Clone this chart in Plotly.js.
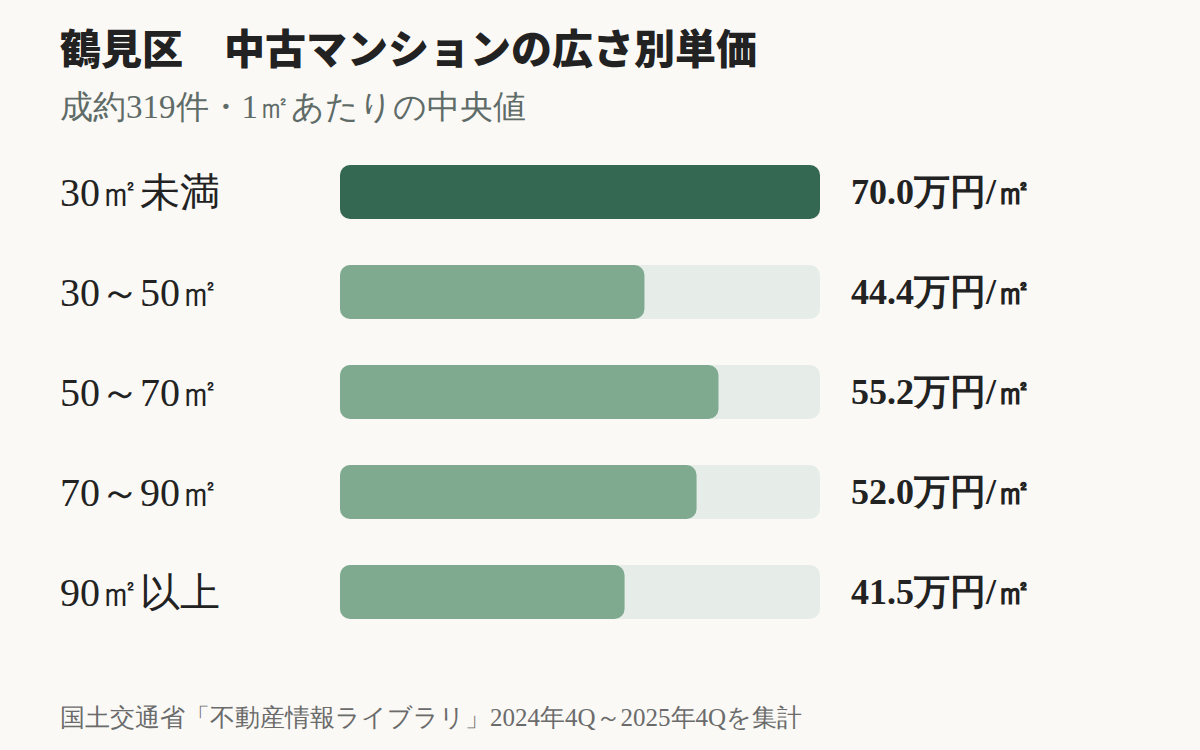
<!DOCTYPE html>
<html>
<head>
<meta charset="utf-8">
<script src="https://cdn.plot.ly/plotly-3.0.1.min.js"></script>
<style>
  html, body { margin: 0; padding: 0; background: #faf9f6; }
  #graph { width: 1200px; height: 750px; }
</style>
</head>
<body>
<div id="graph"></div>
<script>
// 鶴見区 中古マンション 広さ別の1㎡単価（万円）
const categories = ['30㎡未満', '30～50㎡', '50～70㎡', '70～90㎡', '90㎡以上'];
const values = [70.0, 44.4, 55.2, 52.0, 41.5];
const unit = '万円/㎡';

const titleText = '鶴見区　中古マンションの広さ別単価';
const subtitleText = '成約319件・1㎡あたりの中央値';
const sourceText = '国土交通省「不動産情報ライブラリ」2024年4Q～2025年4Qを集計';

const maxVal = Math.max(...values);
const W = 1200, H = 750;
const left = 340, right = 820;

function px(xpix) { return (xpix - left) / (right - left); }

// setting an explicit base makes plotly round both ends of the bar
function roundBar(vals, color) {
    return {
        type: 'bar', orientation: 'h', y: categories, width: 0.54,
        base: vals.map(() => 0),
        x: vals,
        marker: {color: color, cornerradius: 10, line: {width: 0}},
        hoverinfo: 'skip'
    };
}

var trackColor = '#e6ede9';
var barColors = values.map((v, i) => i === 0 ? '#356852' : '#7faa8f');

var data = [
    roundBar(categories.map(() => maxVal), trackColor),
    roundBar(values, barColors)
];

var annotations = [];
categories.forEach(function(c, i) {
    annotations.push({
        xref: 'paper', yref: 'y', x: px(58), y: c,
        xanchor: 'left', yanchor: 'middle', showarrow: false,
        text: c,
        font: {family: 'Liberation Serif, serif', size: 40, color: '#222'}
    });
    annotations.push({
        xref: 'paper', yref: 'y', x: px(849), y: c,
        xanchor: 'left', yanchor: 'middle', showarrow: false,
        text: '<b>' + values[i].toFixed(1) + unit + '</b>',
        font: {family: 'Liberation Serif, serif', size: 36, color: '#222'}
    });
});

annotations.push({
    xref: 'paper', yref: 'paper', x: px(58), y: 1 + (142 - 107) / 500,
    xanchor: 'left', yanchor: 'middle', showarrow: false,
    text: subtitleText,
    font: {family: 'serif', size: 33, color: '#5f6b67'}
});
annotations.push({
    xref: 'paper', yref: 'paper', x: px(58), y: -(717 - 642) / 500,
    xanchor: 'left', yanchor: 'middle', showarrow: false,
    text: sourceText,
    font: {family: 'serif', size: 25, color: '#6b6b6b'}
});

const layout = {
    width: W,
    height: H,
    paper_bgcolor: '#faf9f6',
    plot_bgcolor: '#faf9f6',
    margin: {l: left, r: W - right, t: 142, b: 108},
    barmode: 'overlay',
    showlegend: false,
    title: {
        text: titleText,
        xref: 'container', yref: 'container',
        x: 60 / W, xanchor: 'left',
        y: 1 - 50 / H, yanchor: 'middle',
        font: {family: 'Noto Sans CJK JP, sans-serif', size: 41, weight: 900, color: '#222'}
    },
    xaxis: {
        range: [0, maxVal],
        showgrid: false, zeroline: false, showticklabels: false, fixedrange: true
    },
    yaxis: {
        autorange: 'reversed',
        showgrid: false, zeroline: false, showticklabels: false, fixedrange: true
    },
    annotations: annotations
};

Plotly.newPlot('graph', data, layout, {displayModeBar: false, staticPlot: true});
</script>
</body>
</html>
